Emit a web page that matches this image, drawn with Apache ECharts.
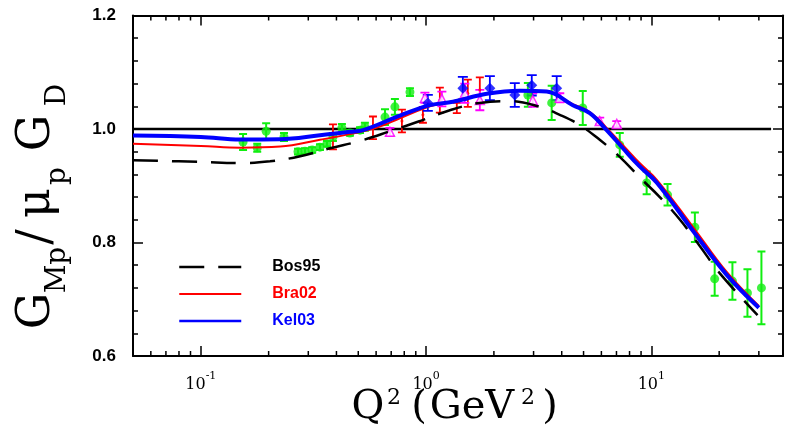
<!DOCTYPE html>
<html>
<head>
<meta charset="utf-8">
<script src="https://cdn.jsdelivr.net/npm/echarts@6/dist/echarts.min.js"></script>
<style>
html,body{margin:0;padding:0;background:#ffffff;}
#chart{width:786px;height:428px;}
</style>
</head>
<body>
<div id="chart"></div>
<script>
// ---------------- data ----------------
const bos95Q2 = [0.05, 0.1, 0.149, 0.203, 0.276, 0.374, 0.509, 0.691, 0.939, 1.275, 1.732, 2.353, 3.197, 3.921, 4.81, 5.90, 7.24, 8.87, 10.9, 13.4, 16.4, 20.1, 29.6];
const bos95G  = [0.945, 0.942, 0.940, 0.943, 0.952, 0.966, 0.979, 0.996, 1.014, 1.033, 1.046, 1.049, 1.039, 1.025, 1.007, 0.981, 0.951, 0.915, 0.880, 0.840, 0.794, 0.746, 0.672];

const bra02Q2 = [0.05, 0.1, 0.15, 0.225, 0.338, 0.459, 0.6, 0.765, 1.04, 1.315, 1.86, 2.61, 3.43, 4.48, 5.33, 6.33, 7.46, 8.87, 10.6, 15.2, 21.6, 30];
const bra02G  = [0.974, 0.970, 0.967, 0.969, 0.981, 0.991, 1.002, 1.019, 1.040, 1.049, 1.062, 1.068, 1.066, 1.044, 1.030, 1.002, 0.972, 0.940, 0.910, 0.829, 0.748, 0.688];

const kel03Q2 = [0.05, 0.1, 0.15, 0.225, 0.338, 0.459, 0.525, 0.765, 1.04, 1.315, 1.86, 2.61, 3.43, 4.48, 5.33, 6.33, 7.46, 8.87, 10.6, 15.2, 21.6, 30];
const kel03G  = [0.9885, 0.986, 0.9815, 0.982, 0.989, 0.995, 0.998, 1.0235, 1.042, 1.048, 1.062, 1.0675, 1.066, 1.042, 1.028, 0.998, 0.9665, 0.934, 0.905, 0.822, 0.743, 0.685];

const greenQ2  = [0.154, 0.178, 0.195, 0.234, 0.270, 0.290, 0.312, 0.338, 0.363, 0.386, 0.423, 0.459, 0.509, 0.535, 0.657, 0.727, 0.848, 2.83, 3.61, 4.96, 7.24, 9.53, 11.8, 15.6, 19.1, 22.9, 26.7, 30.8];
const greenG   = [0.977, 0.967, 0.996, 0.986, 0.960, 0.961, 0.963, 0.968, 0.974, 0.986, 1.002, 0.993, 0.998, 1.004, 1.021, 1.039, 1.065, 1.060, 1.046, 1.037, 0.972, 0.905, 0.884, 0.827, 0.736, 0.732, 0.711, 0.720];
const greenErr = [0.014, 0.007, 0.014, 0.007, 0.005, 0.005, 0.005, 0.005, 0.005, 0.007, 0.007, 0.005, 0.005, 0.007, 0.014, 0.014, 0.007, 0.021, 0.030, 0.030, 0.021, 0.020, 0.019, 0.026, 0.030, 0.033, 0.042, 0.064];

const redQ2  = [0.386, 0.581, 0.781, 0.968, 1.151, 1.369, 1.532, 1.732];
const redG   = [0.986, 1.002, 1.014, 1.025, 1.051, 1.037, 1.063, 1.069];
const redErr = [0.022, 0.020, 0.020, 0.014, 0.022, 0.009, 0.024, 0.022];

const magQ2  = [0.691, 0.988, 1.175, 1.486, 1.732, 2.976, 3.921, 5.898, 7.02];
const magG   = [0.995, 1.055, 1.053, 1.063, 1.051, 1.051, 1.055, 1.014, 1.009];
const magErr = [0.007, 0.009, 0.013, 0.017, 0.018, 0.012, 0.008, 0.006, 0.005];

const blueQ2  = [1.018, 1.456, 1.919, 2.476, 2.945, 3.80];
const blueG   = [1.046, 1.072, 1.072, 1.060, 1.077, 1.072];
const blueErr = [0.014, 0.020, 0.021, 0.021, 0.018, 0.021];

const unityQ2 = [0.05, 34];
const unityG  = [1.0, 1.0];

const xMinorTicks = [0.06, 0.07, 0.08, 0.09, 0.2, 0.3, 0.4, 0.5, 0.6, 0.7, 0.8, 0.9, 2, 3, 4, 5, 6, 7, 8, 9, 20, 30];
const xMin = 0.05, xMax = 38.4;
const yMin = 0.6, yMax = 1.2, yInterval = 0.2;

const legendNames = ['Bos95', 'Bra02', 'Kel03'];
const GREEN = '#10ee10', RED = '#ff0000', BLUE = '#0000ff', MAG = '#ff00ff';

// ---------------- helpers ----------------
const zip = (a, b) => a.map((v, i) => [v, b[i]]);
const zip3 = (a, b, c) => a.map((v, i) => [v, b[i], c[i]]);

function errorBars(q, g, e, color, capW, lw) {
  return {
    type: 'custom', silent: true, z: 3, clip: true,
    data: zip3(q, g, e),
    encode: { x: 0, y: [1] },
    renderItem: function (params, api) {
      const x = api.value(0), y = api.value(1), er = api.value(2);
      const p1 = api.coord([x, y - er]), p2 = api.coord([x, y + er]);
      const hw = capW / 2;
      const st = { stroke: color, lineWidth: lw };
      return { type: 'group', children: [
        { type: 'line', shape: { x1: p1[0], y1: p1[1], x2: p2[0], y2: p2[1] }, style: st },
        { type: 'line', shape: { x1: p1[0] - hw, y1: p1[1], x2: p1[0] + hw, y2: p1[1] }, style: st },
        { type: 'line', shape: { x1: p2[0] - hw, y1: p2[1], x2: p2[0] + hw, y2: p2[1] }, style: st }
      ]};
    }
  };
}

function points(q, g, symbol, size, color, border) {
  return {
    type: 'scatter', silent: true, z: 4,
    data: zip(q, g), symbol: symbol, symbolSize: size,
    itemStyle: border ? { color: '#ffffff', borderColor: color, borderWidth: 1.5 } : { color: color }
  };
}

const chart = echarts.init(document.getElementById('chart'), null, { renderer: 'canvas' });

const axisLineStyle = { color: '#000', width: 2 };
const tickStyle = { color: '#000', width: 1.5 };
const hiddenSymbol = { opacity: 0, color: 'rgba(0,0,0,0)', borderWidth: 0 };

const option = {
  animation: false,
  backgroundColor: '#ffffff',
  grid: { left: 133, right: 3, top: 15.5, bottom: 72, outerBoundsMode: 'none', containLabel: false },
  xAxis: [
    {
      type: 'log', logBase: 10, min: xMin, max: xMax, position: 'bottom',
      axisLine: { show: true, onZero: false, lineStyle: axisLineStyle },
      axisTick: { show: true, inside: true, length: 10, lineStyle: tickStyle },
      splitLine: { show: false },
      axisLabel: {
        margin: 15, showMinLabel: false, showMaxLabel: false,
        formatter: function (v) {
          const l = Math.log10(v), e = Math.round(l);
          if (Math.abs(l - e) > 1e-6) return '';
          return '{b|10}{s|' + (e < 0 ? '-' + (-e) : e) + '}';
        },
        rich: {
          b: { fontFamily: 'DejaVu Serif', fontSize: 16, lineHeight: 22, color: '#000', verticalAlign: 'bottom' },
          s: { fontFamily: 'DejaVu Serif', fontSize: 11, lineHeight: 11, color: '#000', verticalAlign: 'top' }
        }
      }
    },
    {
      type: 'log', logBase: 10, min: xMin, max: xMax, position: 'top',
      axisLine: { show: true, onZero: false, lineStyle: axisLineStyle },
      axisTick: { show: true, inside: true, length: 10, lineStyle: tickStyle },
      splitLine: { show: false },
      axisLabel: { show: false }
    }
  ],
  yAxis: [
    {
      type: 'value', min: yMin, max: yMax, interval: yInterval, position: 'left',
      axisLine: { show: true, onZero: false, lineStyle: axisLineStyle },
      axisTick: { show: true, inside: true, length: 10, lineStyle: tickStyle },
      minorTick: { show: true, splitNumber: 5, length: 5, lineStyle: tickStyle },
      splitLine: { show: false },
      axisLabel: {
        margin: 17, color: '#000', fontFamily: 'Liberation Sans', fontWeight: 'bold', fontSize: 17,
        formatter: v => v.toFixed(1)
      }
    },
    {
      type: 'value', min: yMin, max: yMax, interval: yInterval, position: 'right',
      axisLine: { show: true, onZero: false, lineStyle: axisLineStyle },
      axisTick: { show: true, inside: true, length: 10, lineStyle: tickStyle },
      minorTick: { show: true, splitNumber: 5, length: 5, lineStyle: tickStyle },
      splitLine: { show: false },
      axisLabel: { show: false }
    }
  ],
  legend: {
    orient: 'vertical', left: 178, top: 257, padding: 0,
    itemWidth: 62, itemHeight: 20, itemGap: 7, selectedMode: false,
    textStyle: { fontFamily: 'Liberation Sans', fontWeight: 'bold', fontSize: 16, lineHeight: 20, padding: [0, 0, 0, 26] },
    data: [
      { name: legendNames[0], textStyle: { color: '#000' }, lineStyle: { width: 2.5 }, itemStyle: hiddenSymbol },
      { name: legendNames[1], textStyle: { color: RED }, lineStyle: { width: 2 }, itemStyle: hiddenSymbol },
      { name: legendNames[2], textStyle: { color: BLUE }, lineStyle: { width: 2.5 }, itemStyle: hiddenSymbol }
    ]
  },
  graphic: [],
  series: [
    // minor ticks of the log axes (bottom + top)
    {
      type: 'custom', silent: true, z: 10, clip: false,
      data: xMinorTicks.map(v => [v, yMin]),
      encode: { x: 0, y: 1 },
      renderItem: function (params, api) {
        const v = api.value(0);
        const b = api.coord([v, yMin]), t = api.coord([v, yMax]);
        return { type: 'group', children: [
          { type: 'line', shape: { x1: b[0], y1: b[1], x2: b[0], y2: b[1] - 5 }, style: { stroke: '#000', lineWidth: 1.5 } },
          { type: 'line', shape: { x1: t[0], y1: t[1], x2: t[0], y2: t[1] + 5 }, style: { stroke: '#000', lineWidth: 1.5 } }
        ]};
      }
    },
    {
      name: 'unity', type: 'line', data: zip(unityQ2, unityG), symbol: 'none', silent: true, z: 2,
      lineStyle: { color: '#000', width: 2.5 }
    },
    errorBars(greenQ2, greenG, greenErr, GREEN, 8, 2),
    errorBars(redQ2, redG, redErr, RED, 8, 1.8),
    errorBars(magQ2, magG, magErr, MAG, 9, 1.8),
    errorBars(blueQ2, blueG, blueErr, BLUE, 10, 1.8),
    points(greenQ2, greenG, 'circle', 9, GREEN, false),
    points(redQ2, redG, 'circle', 3, RED, false),
    points(magQ2, magG, 'triangle', 9, MAG, true),
    points(blueQ2, blueG, 'diamond', 11, BLUE, false),
    {
      name: legendNames[0], type: 'line', data: zip(bos95Q2, bos95G), smooth: 0.4,
      symbol: 'none', showSymbol: false, silent: true, z: 6,
      lineStyle: { color: '#000', width: 2.5, type: [25, 14] }, itemStyle: { color: '#000' }
    },
    {
      name: legendNames[1], type: 'line', data: zip(bra02Q2, bra02G), smooth: 0.4,
      symbol: 'none', showSymbol: false, silent: true, z: 6,
      lineStyle: { color: RED, width: 2 }, itemStyle: { color: RED }
    },
    {
      name: legendNames[2], type: 'line', data: zip(kel03Q2, kel03G), smooth: 0.4,
      symbol: 'none', showSymbol: false, silent: true, z: 7,
      lineStyle: { color: BLUE, width: 4 }, itemStyle: { color: BLUE }
    }
  ]
};

// ---------------- axis titles (text) ----------------
const serif = 'DejaVu Serif';
const yTitle = [
  { t: 'G',  size: 46, cy: 311, big: true },
  { t: 'Mp', size: 28, cy: 270, big: false },
  { t: '/',  size: 46, cy: 237, big: true },
  { t: 'μ',  size: 46, cy: 203, big: true },
  { t: 'p',  size: 28, cy: 176, big: false },
  { t: 'G',  size: 46, cy: 133, big: true },
  { t: 'D',  size: 28, cy: 95,  big: false }
];
yTitle.forEach(p => {
  option.graphic.push({
    type: 'text', x: p.big ? 37 : 58, y: p.cy, rotation: Math.PI / 2, silent: true,
    style: { text: p.t, font: p.size + 'px "' + serif + '"', fill: '#000', align: 'center', verticalAlign: 'middle' }
  });
});
const xTitle = [
  { t: 'Q',   size: 40, cx: 368, cy: 408 },
  { t: '2',   size: 22, cx: 394, cy: 398 },
  { t: '(',   size: 40, cx: 419, cy: 408 },
  { t: 'GeV', size: 40, cx: 472, cy: 408 },
  { t: '2',   size: 22, cx: 528, cy: 398 },
  { t: ')',   size: 40, cx: 550, cy: 408 }
];
xTitle.forEach(p => {
  option.graphic.push({
    type: 'text', x: p.cx, y: p.cy, silent: true,
    style: { text: p.t, font: p.size + 'px "' + serif + '"', fill: '#000', align: 'center', verticalAlign: 'middle' }
  });
});

chart.setOption(option);
</script>
</body>
</html>
